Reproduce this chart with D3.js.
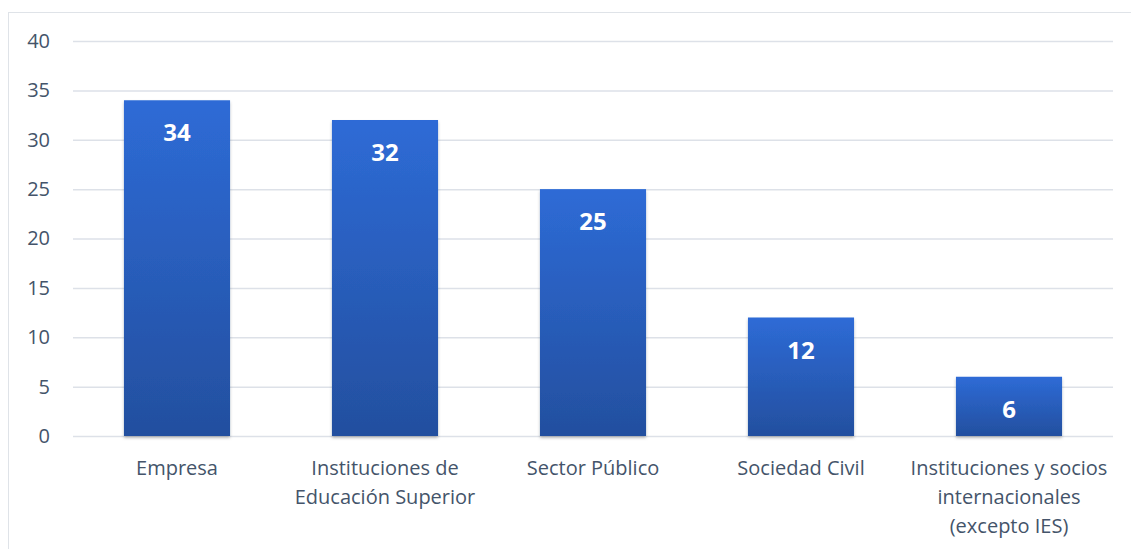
<!DOCTYPE html>
<html><head><meta charset="utf-8">
<script src="https://cdn.jsdelivr.net/npm/d3@7"></script>
<style>body{margin:0;background:#fff}svg{display:block}</style>
</head><body>
<svg id="c" width="1131" height="549"></svg>
<script>
const categories = [["Empresa"],["Instituciones de","Educación Superior"],["Sector Público"],["Sociedad Civil"],["Instituciones y socios","internacionales","(excepto IES)"]];
const values = [34, 32, 25, 12, 6];
const yTicks = [0,5,10,15,20,25,30,35,40];

const svg = d3.select("#c");
const font = "'Open Sans', sans-serif";
const m = {left:73, right:1113, top:41, bottom:436};

svg.append("rect").attr("x",8.5).attr("y",12.5).attr("width",1200).attr("height",700)
  .attr("fill","none").attr("stroke","#dfe3e8").attr("stroke-width",1);

const defs = svg.append("defs");
const g = defs.append("linearGradient").attr("id","bg").attr("x1",0).attr("y1",0).attr("x2",0).attr("y2",1);
g.append("stop").attr("offset","0%").attr("stop-color","#2e6bd6");
g.append("stop").attr("offset","100%").attr("stop-color","#234f9f");
const f = defs.append("filter").attr("id","sh").attr("x","-10%").attr("y","-10%").attr("width","120%").attr("height","130%");
f.append("feDropShadow").attr("dx",0).attr("dy",2).attr("stdDeviation",1.5).attr("flood-color","#000").attr("flood-opacity",0.25);

const x = d3.scaleBand().domain(d3.range(values.length)).range([m.left,m.right]).paddingInner(0.49).paddingOuter(0.245);
const y = d3.scaleLinear().domain([0,40]).range([m.bottom,m.top]);

const ya = svg.append("g").attr("transform",`translate(${m.left},0)`)
  .call(d3.axisLeft(y).tickValues(yTicks).tickSize(-(m.right-m.left)).tickPadding(23));
ya.select(".domain").remove();
ya.selectAll(".tick line").attr("stroke","#dde1e8").attr("stroke-width",1.5);
ya.selectAll(".tick text").attr("font-family",font).attr("font-size",20).attr("fill","#44546a");

svg.append("g").selectAll("rect").data(values).join("rect")
  .attr("x",(d,i)=>x(i)).attr("width",x.bandwidth())
  .attr("y",d=>y(d)).attr("height",d=>y(0)-y(d))
  .attr("fill","url(#bg)").attr("filter","url(#sh)");

svg.append("g").selectAll("text").data(values).join("text")
  .attr("x",(d,i)=>x(i)+x.bandwidth()/2).attr("y",d=>y(d)+41)
  .attr("text-anchor","middle").attr("font-family",font).attr("font-weight","bold")
  .attr("font-size",24).attr("fill","#fff").text(d=>d);

const xa = svg.append("g").attr("transform",`translate(0,${m.bottom})`)
  .call(d3.axisBottom(x).tickSize(0).tickFormat(""));
xa.select(".domain").remove();
xa.selectAll(".tick").each(function(d){
  const t = d3.select(this).append("text").attr("font-family",font).attr("font-size",20)
    .attr("fill","#44546a").attr("text-anchor","middle");
  categories[d].forEach((s,k)=>t.append("tspan").attr("x",0).attr("y",39+k*29).text(s));
});
</script>
</body></html>
